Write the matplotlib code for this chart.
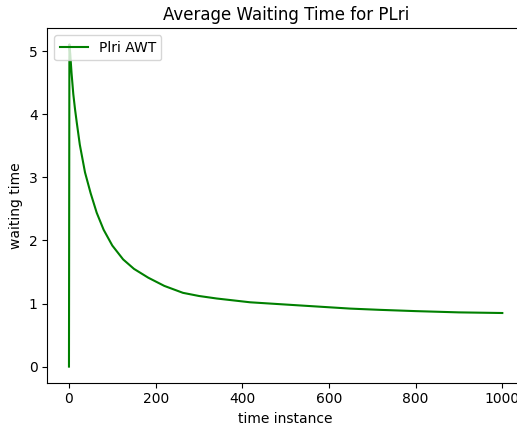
import matplotlib
matplotlib.use("Agg")
import matplotlib.pyplot as plt

# values
time_instance = [0, 1, 3, 6, 10, 14, 18, 25, 37, 50, 64, 80, 100, 125, 150, 183, 220,
                 263, 300, 341, 418, 533, 649, 718, 800, 900, 1000]
waiting_time = [0.0, 5.11, 4.95, 4.65, 4.32, 4.08, 3.87, 3.52, 3.08, 2.75, 2.44, 2.17,
                1.92, 1.70, 1.55, 1.41, 1.28, 1.17, 1.12, 1.08, 1.02, 0.97, 0.92, 0.90,
                0.88, 0.86, 0.85]

fig = plt.figure(figsize=(5.17, 4.26), dpi=100)
# the reference is cropped on the right, so the axes run past the figure edge
ax = fig.add_axes([0.0915, 0.1016, 0.922, 0.832])
ax.plot(time_instance, waiting_time, color="green", label="Plri AWT")
ax.set_xlim(-50, 1050)
ax.set_title("Average Waiting Time for PLri")
ax.set_xlabel("time instance")
ax.set_ylabel("waiting time")
ax.legend(loc="upper left")
fig.savefig("out.png", dpi=100)
